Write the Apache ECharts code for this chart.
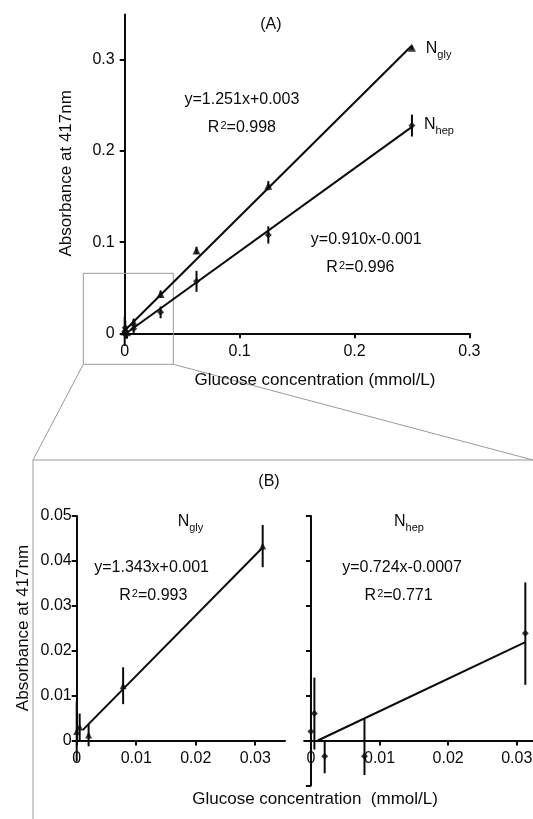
<!DOCTYPE html>
<html><head><meta charset="utf-8">
<script src="https://cdn.jsdelivr.net/npm/echarts@6/dist/echarts.min.js"></script>
<style>html,body{margin:0;padding:0;background:#fff}#c{width:533px;height:819px}</style>
</head><body><div id="c"></div>
<script>
// ---------- Panel A ----------
var concA = [0, 0.0005, 0.002, 0.0078, 0.03125, 0.0625, 0.125, 0.25];
var glyA = [0.002, 0.003, 0.0012, 0.012, 0.043, 0.091, 0.162, 0.3135];
var glyAErr = [0.005, 0.003, 0.0025, 0.004, 0.004, 0.004, 0.005, 0.002];
var hepA = [0.002, 0.006, -0.003, 0.005, 0.023, 0.057, 0.108, 0.228];
var hepAErr = [0.016, 0.008, 0.003, 0.005, 0.0065, 0.0115, 0.0095, 0.012];
var glyAFit = [[0, 0.003], [0.25, 0.3158]];
var hepAFit = [[0, -0.001], [0.25, 0.2265]];
var ticksAX = [0, 0.1, 0.2, 0.3];
var ticksAY = [0, 0.1, 0.2, 0.3];

// ---------- Panel B (zoom) ----------
var concB = [0, 0.0005, 0.002, 0.0078, 0.03125];
var glyB = [0.002, 0.003, 0.0012, 0.0122, 0.0433];
var glyBErr = [0.0067, 0.003, 0.0025, 0.0041, 0.0047];
var hepB = [0.002, 0.006, -0.0035, -0.0035, 0.0239];
var hepBLow = [-0.0017, -0.002, -0.0073, -0.0077, 0.0124];
var hepBHigh = [0.0147, 0.014, 0, 0.0048, 0.0352];
var glyBFit = [[0.001, 0.0023], [0.03125, 0.043]];
var hepBFit = [[0.001, 0.0000], [0.03125, 0.0219]];
var ticksBX = [0, 0.01, 0.02, 0.03];
var ticksB1Y = [0, 0.01, 0.02, 0.03, 0.04, 0.05];
var ticksB2Y = [-0.01, 0, 0.01, 0.02, 0.03, 0.04, 0.05];

var FONT = '"Liberation Sans", Arial, sans-serif';
var INK = '#0a0a0a';

function zip(xs, ys) { return xs.map(function (x, i) { return [x, ys[i]]; }); }
function errData(xs, ys, e) { return xs.map(function (x, i) { return [x, ys[i] - e[i], ys[i] + e[i]]; }); }
function errDataLH(xs, lo, hi) { return xs.map(function (x, i) { return [x, lo[i], hi[i]]; }); }
function errSeries(idx, data) {
  return {
    type: 'custom', xAxisIndex: idx, yAxisIndex: idx, data: data, z: 3,
    renderItem: function (params, api) {
      var p1 = api.coord([api.value(0), api.value(1)]);
      var p2 = api.coord([api.value(0), api.value(2)]);
      return { type: 'line', shape: { x1: p1[0], y1: p1[1], x2: p2[0], y2: p2[1] },
        style: { stroke: INK, lineWidth: 2 } };
    }
  };
}
function fitSeries(idx, data) {
  return { type: 'line', xAxisIndex: idx, yAxisIndex: idx, data: data, symbol: 'none',
    lineStyle: { color: INK, width: 2 }, silent: true, z: 2 };
}
function ptSeries(idx, data, sym, size) {
  return { type: 'scatter', xAxisIndex: idx, yAxisIndex: idx, data: data, symbol: sym,
    symbolSize: size, itemStyle: { color: INK }, z: 4 };
}
function axisBase(extra) {
  var a = {
    type: 'value', splitLine: { show: false },
    axisLine: { show: true, onZero: true, lineStyle: { color: INK, width: 2 } },
    axisTick: { show: true, inside: false, length: 5, lineStyle: { color: INK, width: 2 } },
    axisLabel: { color: INK, fontSize: 16, fontFamily: FONT }
  };
  for (var k in extra) {
    if (typeof extra[k] === 'object' && a[k] && !Array.isArray(extra[k])) {
      for (var j in extra[k]) a[k][j] = extra[k][j];
    } else a[k] = extra[k];
  }
  return a;
}
function fmt(v) { return String(+v.toFixed(4)); }

var sub = { fontSize: 11, fontFamily: FONT, color: INK, verticalAlign: 'bottom', padding: [0, 0, -3, 0] };
var sup = { fontSize: 11, fontFamily: FONT, color: INK, verticalAlign: 'top', padding: [0, 0, 0, 1] };
var base = { fontSize: 16, fontFamily: FONT, color: INK };
function txt(x, y, text, align, rot, size) {
  return { type: 'text', x: x, y: y, rotation: rot || 0, z: 10,
    style: { text: text, textAlign: align || 'center', textVerticalAlign: 'middle',
      font: (size || 16) + 'px ' + FONT, fill: INK, rich: { n: base, s: sub, p: sup } } };
}

var chart = echarts.init(document.getElementById('c'), null, { renderer: 'canvas' });
chart.setOption({
  animation: false,
  backgroundColor: '#fff',
  grid: [
    { left: 124.7, top: 14.4, width: 344.7, height: 318.9, outerBoundsMode: 'none', containLabel: false },
    { left: 76.7, top: 516, width: 208.3, height: 224.5, outerBoundsMode: 'none', containLabel: false },
    { left: 304.1, top: 516, width: 240.1, height: 269.4, outerBoundsMode: 'none', containLabel: false }
  ],
  xAxis: [
    axisBase({ gridIndex: 0, min: 0, max: 0.3,
      axisTick: { customValues: ticksAX },
      axisLabel: { customValues: ticksAX, margin: 10, formatter: fmt } }),
    axisBase({ gridIndex: 1, min: 0, max: 0.035,
      axisTick: { customValues: ticksBX },
      axisLabel: { customValues: ticksBX, margin: 10, formatter: fmt } }),
    axisBase({ gridIndex: 2, min: -0.001, max: 0.034, offset: -44.9,
      axisLine: { onZero: false },
      axisTick: { customValues: ticksBX },
      axisLabel: { customValues: ticksBX, margin: 10, formatter: fmt } })
  ],
  yAxis: [
    axisBase({ gridIndex: 0, min: 0, max: 0.35,
      axisTick: { customValues: ticksAY },
      axisLabel: { customValues: ticksAY, margin: 10, formatter: fmt } }),
    axisBase({ gridIndex: 1, min: 0, max: 0.05,
      axisTick: { customValues: ticksB1Y },
      axisLabel: { customValues: ticksB1Y, margin: 5, formatter: fmt } }),
    axisBase({ gridIndex: 2, min: -0.01, max: 0.05,
      axisTick: { customValues: ticksB2Y },
      axisLabel: { show: false } })
  ],
  series: [
    fitSeries(0, glyAFit), fitSeries(0, hepAFit),
    errSeries(0, errData(concA, glyA, glyAErr)), errSeries(0, errData(concA, hepA, hepAErr)),
    ptSeries(0, zip(concA, glyA), 'triangle', 8), ptSeries(0, zip(concA, hepA), 'diamond', 7),
    fitSeries(1, glyBFit),
    errSeries(1, errData(concB, glyB, glyBErr)),
    ptSeries(1, zip(concB, glyB), 'triangle', 7),
    fitSeries(2, hepBFit),
    errSeries(2, errDataLH(concB, hepBLow, hepBHigh)),
    ptSeries(2, zip(concB, hepB), 'diamond', 7)
  ],
  graphic: [
    // zoom rectangle and connectors
    { type: 'rect', shape: { x: 83.3, y: 273.3, width: 90, height: 91 }, z: 1,
      style: { fill: 'none', stroke: '#9a9a9a', lineWidth: 1 } },
    { type: 'line', shape: { x1: 83.3, y1: 364.3, x2: 33, y2: 460 }, style: { stroke: '#9a9a9a', lineWidth: 1 } },
    { type: 'line', shape: { x1: 173.3, y1: 364.3, x2: 533, y2: 460 }, style: { stroke: '#9a9a9a', lineWidth: 1 } },
    { type: 'polyline', shape: { points: [[33, 819], [33, 460], [533, 460]] }, style: { fill: 'none', stroke: '#9a9a9a', lineWidth: 1 } },
    // panel A text
    txt(270.8, 25, '(A)'),
    txt(425.8, 49, '{n|N}{s|gly}', 'left'),
    txt(424, 125, '{n|N}{s|hep}', 'left'),
    txt(241.9, 100, 'y=1.251x+0.003'),
    txt(241.9, 128, '{n|R}{p|2}{n|=0.998}'),
    txt(366.2, 240, 'y=0.910x-0.001'),
    txt(360.4, 268, '{n|R}{p|2}{n|=0.996}'),
    txt(315, 380, 'Glucose concentration (mmol/L)', 'center', 0, 17),
    txt(66.4, 173.3, 'Absorbance at 417nm', 'center', Math.PI / 2, 17),
    // panel B text
    txt(269, 481.7, '(B)'),
    txt(190.5, 522, '{n|N}{s|gly}'),
    txt(409, 522, '{n|N}{s|hep}'),
    txt(151.6, 568, 'y=1.343x+0.001'),
    txt(153.3, 596, '{n|R}{p|2}{n|=0.993}'),
    txt(402, 568, 'y=0.724x-0.0007'),
    txt(398.6, 596, '{n|R}{p|2}{n|=0.771}'),
    txt(315.1, 799, 'Glucose concentration  (mmol/L)', 'center', 0, 17),
    txt(23.8, 628, 'Absorbance at 417nm', 'center', Math.PI / 2, 17)
  ]
});
</script></body></html>
